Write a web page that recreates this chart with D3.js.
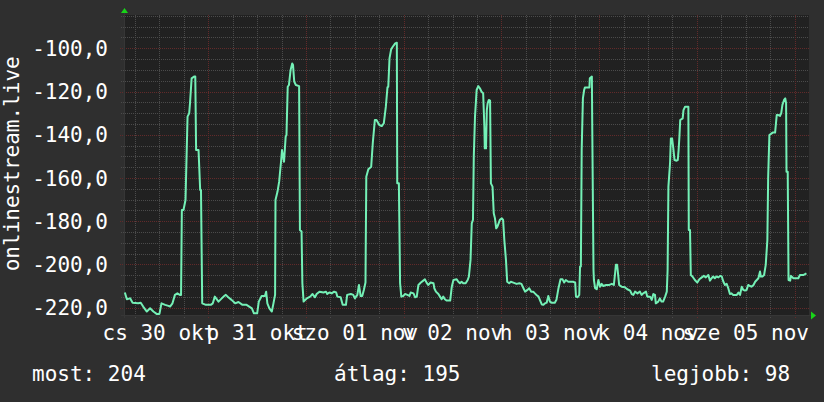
<!DOCTYPE html>
<html>
<head>
<meta charset="utf-8">
<script src="https://cdn.jsdelivr.net/npm/d3@7"></script>
<style>
  html, body { margin: 0; padding: 0; background: #2f2f2f; }
  svg { display: block; }
  text { font-family: "DejaVu Sans Mono", monospace; fill: #ffffff; }
</style>
</head>
<body>
<script>
// ---------- data ----------
// time offsets in hours relative to 2025-10-31 00:00
const hours = [
-20.5,-20.0,-19.2,-18.6,-17.2,-16.6,-16.0,-15.1,-14.3,-13.5,-12.7,-12.0,-11.5,-10.6,-9.8,-9.4,-8.8,-8.2,-7.6,-7.0,
-6.7,-6.5,-6.1,-5.6,-5.1,-4.7,-4.5,-4.1,-3.5,-3.2,-3.0,-2.4,-2.0,-1.8,-1.5,-0.6,0.6,1.1,1.6,2.5,
3.3,3.9,4.3,4.9,5.7,6.6,7.4,8.4,9.4,10.7,11.2,12.0,12.4,13.1,
13.9,14.2,14.5,15.0,15.6,16.0,16.4,16.5,17.0,17.4,17.9,18.1,18.6,19.0,19.2,19.5,19.8,20.2,20.6,20.8,
21.1,21.5,22.3,22.5,22.9,23.1,23.4,24.2,25.0,25.6,26.2,26.6,27.3,28.3,28.9,29.2,29.7,30.3,30.9,31.4,
31.7,32.5,33.0,33.8,34.1,35.0,35.6,36.0,36.6,37.0,37.4,37.8,38.2,38.6,38.8,39.3,40.0,40.4,40.9,41.3,
42.0,42.6,43.1,43.6,44.0,44.2,44.5,44.9,45.3,45.9,46.3,46.4,46.8,47.1,47.4,
47.9,48.3,48.9,49.4,49.7,50.4,50.8,51.2,51.6,52.2,52.8,53.2,53.6,54.0,54.6,55.3,55.5,55.9,56.5,56.9,
57.3,57.7,58.1,58.5,59.4,59.8,60.2,61.0,61.4,61.8,62.2,62.6,63.2,63.7,64.0,64.4,64.7,65.0,65.2,65.5,
65.9,66.3,66.7,67.1,67.5,67.8,67.9,68.2,68.4,68.6,68.9,69.2,69.4,69.8,70.1,70.4,70.7,71.0,71.3,71.6,
72.1,72.4,72.7,73.1,73.4,73.9,74.3,74.9,75.7,76.4,76.9,77.4,77.8,78.4,78.8,79.3,79.8,80.2,80.6,81.1,
81.5,81.9,
82.3,82.7,83.1,83.5,83.9,84.3,85.1,85.5,86.0,86.5,87.0,87.4,87.8,88.4,89.6,90.1,90.3,90.7,91.1,91.3,
91.5,91.7,92.0,92.3,92.5,93.6,93.7,94.2,94.3,94.6,94.7,95.0,95.4,95.8,96.2,96.6,97.0,97.7,98.5,99.1,
99.6,99.9,100.1,100.4,100.7,100.9,101.5,102.3,102.9,103.6,104.0,104.4,104.8,105.4,106.0,106.4,106.8,107.5,107.8,108.5,
108.9,109.3,109.7,109.9,110.5,110.9,111.3,111.7,112.2,112.6,112.8,113.0,113.4,113.6,113.9,114.2,114.5,115.0,115.3,115.5,
115.7,115.9,
116.5,116.7,117.1,117.9,118.0,118.3,118.5,118.9,119.5,120.1,120.6,121.2,121.7,122.2,122.8,123.2,123.6,124.0,124.4,124.8,
125.3,125.7,126.1,126.5,126.9,127.3,127.7,128.1,128.5,128.9,129.8,130.2,130.6,131.0,131.4,131.8,132.2,132.6,133.0,133.4,
133.9,134.3,134.7,135.1,135.5,135.7,136.1,136.5,136.9,137.3,137.5,137.8,138.1,138.6,139.2,139.6,140.0,140.4,140.7,141.0,
141.4,141.7,141.9,142.0,142.3,142.5,142.9,143.1,143.7,144.9,145.3,146.1,146.9
];
const values = [
-213.0,-216.1,-215.7,-217.7,-218.0,-217.7,-219.5,-221.8,-220.3,-221.8,-222.9,-222.9,-218.0,-218.7,-219.2,-219.5,-218.0,-214.1,-213.4,-214.1,
-214.1,-174.8,-174.8,-170.2,-131.6,-130.1,-125.5,-113.9,-113.1,-113.1,-147.1,-147.1,-165.6,-165.6,-218.0,-218.7,-218.7,-218.0,-214.9,-217.2,
-215.7,-214.6,-214.1,-215.2,-216.4,-218.0,-217.4,-218.7,-218.7,-220.3,-222.6,-222.6,-217.2,-214.6,
-214.6,-212.6,-218.0,-220.3,-221.8,-218.0,-214.1,-170.2,-166.3,-161.7,-151.7,-147.1,-152.5,-140.9,-140.1,-117.8,-117.0,-110.1,-107.0,-107.7,
-115.4,-117.0,-117.5,-184.1,-184.8,-208.7,-217.2,-215.7,-214.9,-213.7,-215.2,-213.7,-212.6,-213.0,-212.6,-213.7,-213.0,-213.4,-212.6,-213.0,
-214.9,-215.2,-218.7,-218.7,-214.1,-213.7,-214.1,-215.7,-214.1,-209.5,-214.6,-214.6,-211.8,-208.4,-159.4,-156.0,-154.8,-143.7,-133.2,-133.2,
-135.5,-136.0,-134.7,-127.0,-118.1,-117.8,-104.7,-100.5,-99.3,-97.7,-97.4,-162.5,-162.5,-208.7,-214.9,
-214.6,-213.7,-214.1,-214.6,-213.0,-213.4,-215.2,-214.9,-209.5,-208.4,-207.5,-206.9,-208.4,-209.5,-208.4,-208.7,-211.0,-212.6,-213.7,-214.9,
-216.1,-214.9,-216.1,-216.7,-216.7,-210.3,-207.2,-206.9,-208.0,-208.7,-208.0,-208.7,-208.7,-207.2,-205.6,-197.9,-181.0,-179.4,-150.1,-131.6,
-119.3,-117.5,-118.5,-120.1,-120.8,-136.3,-146.3,-146.3,-128.6,-125.5,-123.9,-124.2,-162.5,-164.0,-176.3,-178.7,-183.3,-182.5,-181.0,-179.4,
-178.7,-179.4,-188.7,-197.9,-208.0,-208.7,-208.0,-208.4,-209.0,-208.7,-209.0,-211.0,-212.6,-211.8,-211.0,-212.6,-212.6,-213.4,-214.1,-214.9,
-216.7,-218.5,
-218.7,-218.0,-217.7,-214.6,-217.2,-217.7,-217.7,-216.4,-211.0,-206.9,-206.9,-208.4,-207.2,-208.0,-208.0,-208.4,-214.9,-215.2,-214.1,-201.0,
-201.0,-147.1,-123.2,-119.3,-118.1,-118.1,-113.9,-113.1,-137.8,-202.6,-207.2,-211.0,-211.5,-207.2,-210.3,-209.0,-210.0,-209.5,-209.5,-209.0,
-209.5,-204.1,-200.2,-200.2,-205.6,-209.5,-210.3,-210.6,-211.5,-212.1,-213.7,-214.1,-212.6,-213.4,-212.6,-214.1,-213.4,-212.6,-214.9,-214.9,
-216.4,-213.7,-214.1,-218.0,-217.2,-215.7,-217.2,-217.2,-214.9,-212.6,-202.6,-164.0,-153.2,-141.7,-141.7,-146.3,-151.7,-152.0,-151.7,-147.1,
-140.9,-133.2,
-132.4,-128.6,-127.0,-127.0,-184.1,-184.1,-204.9,-205.6,-207.2,-208.4,-206.9,-206.0,-205.3,-206.0,-204.9,-207.5,-206.4,-205.6,-206.4,-205.6,
-206.0,-205.3,-205.6,-208.0,-209.5,-209.0,-211.0,-213.7,-213.4,-214.1,-214.1,-213.0,-214.1,-210.3,-211.8,-212.1,-211.8,-209.5,-210.0,-210.3,
-209.5,-208.0,-207.2,-206.4,-203.3,-205.6,-205.6,-204.9,-200.2,-188.7,-159.4,-140.1,-139.7,-139.0,-139.0,-130.9,-130.9,-131.3,-130.1,-126.2,
-123.9,-123.2,-125.5,-157.1,-157.1,-207.2,-207.5,-205.3,-206.4,-206.4,-204.9,-204.9,-204.1
];

const yTickValues = [-100, -120, -140, -160, -180, -200, -220];
const dayLabels = ["cs 30 okt", "p 31 okt", "szo 01 nov", "v 02 nov", "h 03 nov", "k 04 nov", "sze 05 nov"];
const dayLabelHours = [-12, 12, 36, 60, 84, 108, 132];   // noon of each day
const midnightHours = [0, 24, 48, 72, 96, 120, 144];
const yAxisTitle = "onlinestream.live";
const legendTexts = ["most: 204", "átlag: 195", "legjobb: 98"];

// ---------- layout ----------
const W = 824, H = 402;
const base = Date.UTC(2025, 9, 31, 0, 0);
const HOUR = 3600 * 1000;
const toDate = h => new Date(base + h * HOUR);

const L = 123.5, R = 809.3, T = 15, B = 315;
const x = d3.scaleUtc().domain([toDate(-20.83), toDate(147.6)]).range([L, R]);
const y = d3.scaleLinear().domain([-223.4, -84.6]).range([B, T]);

const svg = d3.select("body").append("svg").attr("width", W).attr("height", H);
svg.append("rect").attr("width", W).attr("height", H).attr("fill", "#2f2f2f");
svg.append("rect").attr("x", 124).attr("y", T).attr("width", 809 - 124).attr("height", B - T + 1).attr("fill", "#212121");

const g = svg.append("g");
const px = v => Math.round(v) + 0.5;
const minorColor = "#4b4b4b", majorColor = "#622a2a";

// horizontal grid
const minorY = d3.range(-220, -84, 5).filter(v => !yTickValues.includes(v));
g.selectAll(".hmin").data(minorY).enter().append("line")
  .attr("x1", 121).attr("x2", 809).attr("y1", d => px(y(d))).attr("y2", d => px(y(d)))
  .attr("stroke", minorColor).attr("stroke-width", 1).attr("stroke-dasharray", "1,1");
g.selectAll(".hmaj").data(yTickValues).enter().append("line")
  .attr("x1", 120).attr("x2", 809).attr("y1", d => px(y(d))).attr("y2", d => px(y(d)))
  .attr("stroke", majorColor).attr("stroke-width", 1).attr("stroke-dasharray", "1,1");

// vertical grid
const minorX = d3.range(-18, 148, 6).filter(h => h % 24 !== 0);
g.selectAll(".vmin").data(minorX).enter().append("line")
  .attr("x1", d => px(x(toDate(d)))).attr("x2", d => px(x(toDate(d))))
  .attr("y1", T).attr("y2", B + 3)
  .attr("stroke", minorColor).attr("stroke-width", 1).attr("stroke-dasharray", "1,1");
g.selectAll(".vmaj").data(midnightHours).enter().append("line")
  .attr("x1", d => px(x(toDate(d)))).attr("x2", d => px(x(toDate(d))))
  .attr("y1", T).attr("y2", B + 4)
  .attr("stroke", majorColor).attr("stroke-width", 1).attr("stroke-dasharray", "1,1");

// axes lines
svg.append("line").attr("x1", 124.5).attr("x2", 124.5).attr("y1", 12).attr("y2", B + 3)
  .attr("stroke", "#363636");
svg.append("line").attr("x1", 121).attr("x2", 811).attr("y1", B + 0.5).attr("y2", B + 0.5)
  .attr("stroke", "#363636");

// arrows
svg.append("path").attr("d", "M121,13 L128,13 L124.5,8 Z").attr("fill", "#19d419");
svg.append("path").attr("d", "M811,311.5 L811,319.5 L816,315.5 Z").attr("fill", "#19d419");

// data line
const line = d3.line()
  .x((d, i) => x(toDate(hours[i])))
  .y(d => y(d));
svg.append("path").datum(values)
  .attr("d", line)
  .attr("fill", "none")
  .attr("stroke", "#74f0b6")
  .attr("stroke-width", 2)
  .attr("stroke-linejoin", "round");

// y tick labels
const loc = d3.formatLocale({ decimal: ",", thousands: " ", grouping: [3], currency: ["", ""], minus: "-" });
const fmt = loc.format(".1f");
svg.selectAll(".ylab").data(yTickValues).enter().append("text")
  .attr("x", 108).attr("y", d => y(d) + 7.6)
  .attr("text-anchor", "end").attr("font-size", "21px")
  .text(d => fmt(d));

// x labels (overlapping, as in the original rrdtool rendering)
svg.selectAll(".xlab").data(dayLabels).enter().append("text")
  .attr("x", (d, i) => x(toDate(dayLabelHours[i])))
  .attr("y", 339.5)
  .attr("text-anchor", "middle").attr("font-size", "21px")
  .text(d => d);

// y axis title
svg.append("text")
  .attr("transform", "translate(18.5,163.8) rotate(-90)")
  .attr("text-anchor", "middle").attr("font-size", "21px")
  .text(yAxisTitle);

// legend
const legendX = [32, 334, 651];
svg.selectAll(".leg").data(legendTexts).enter().append("text")
  .attr("x", (d, i) => legendX[i]).attr("y", 381)
  .attr("font-size", "21px")
  .text(d => d);
</script>
</body>
</html>
